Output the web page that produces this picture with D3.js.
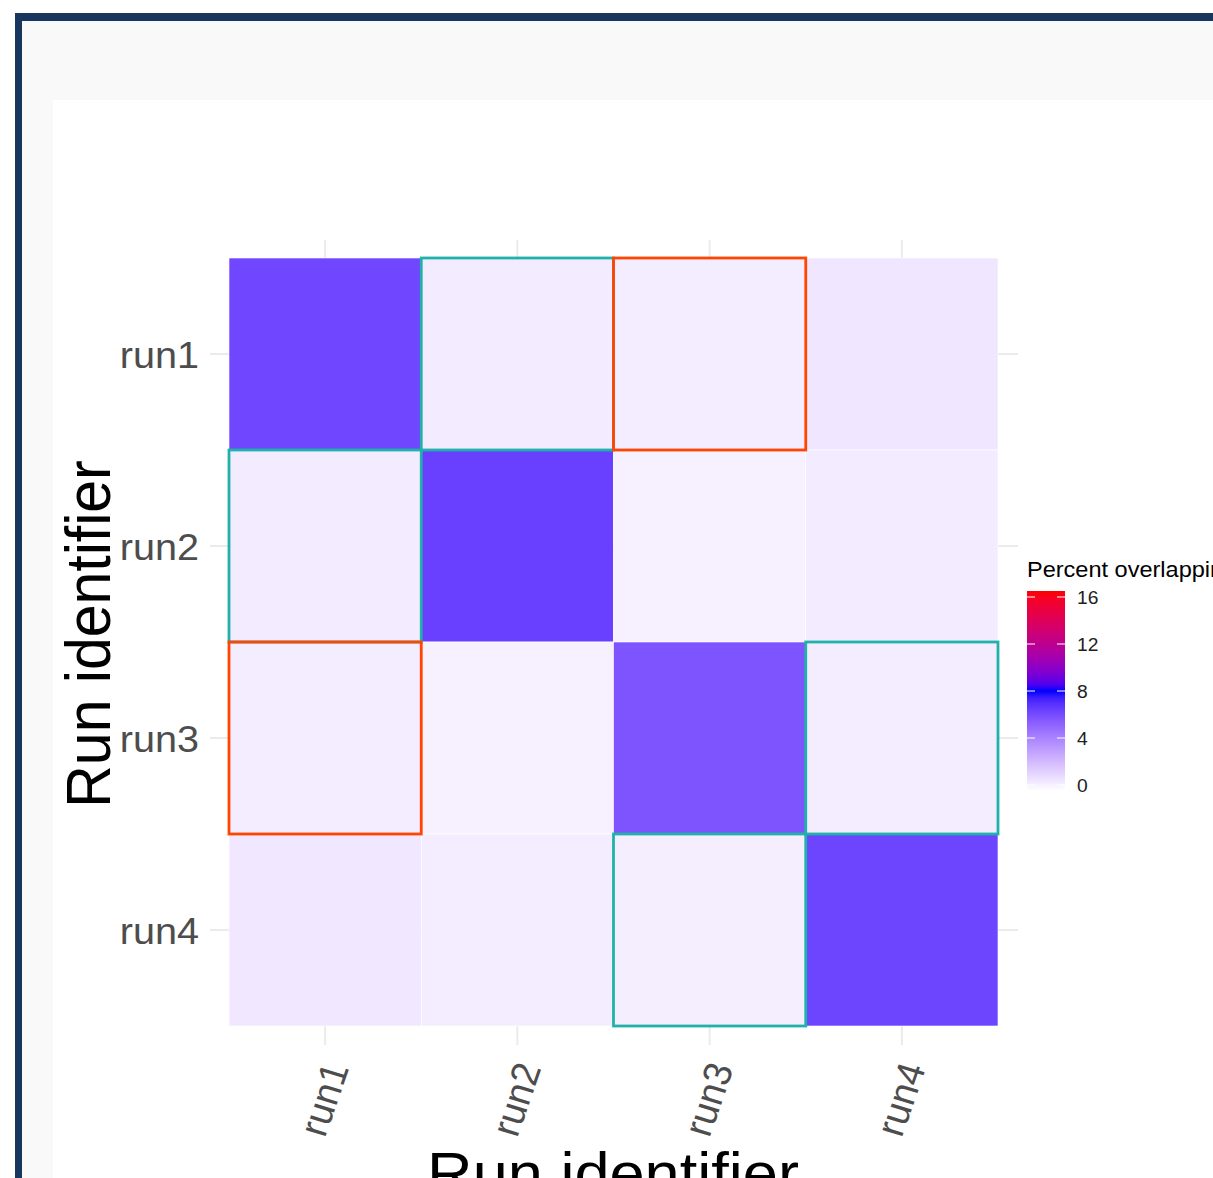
<!DOCTYPE html>
<html><head><meta charset="utf-8">
<script src="https://cdn.jsdelivr.net/npm/d3@7"></script>
<style>html,body{margin:0;padding:0;background:#fff;overflow:hidden}svg{display:block;font-family:"Liberation Sans",Arial,sans-serif}</style>
</head><body>
<svg id="c" width="1213" height="1178"></svg>
<script>
const runs = ["run1","run2","run3","run4"];
// rows (y) x columns (x): percent overlap
const overlapRun1 = [6.30, 0.66, 0.62, 0.82];
const overlapRun2 = [0.66, 6.50, 0.46, 0.68];
const overlapRun3 = [0.62, 0.46, 5.85, 0.60];
const overlapRun4 = [0.80, 0.60, 0.58, 6.35];
const tealPairs = [["run1","run2"],["run2","run1"],["run3","run4"],["run4","run3"]];
const orangePairs = [["run1","run3"],["run3","run1"]];
const legendTicks = [0,4,8,12,16];
const legendTitle = "Percent overlapping";
const axisTitle = "Run identifier";

const rowsVals = [overlapRun1, overlapRun2, overlapRun3, overlapRun4];
const cells = [];
runs.forEach((ry,i)=>runs.forEach((rx,j)=>cells.push({x:rx,y:ry,v:rowsVals[i][j]})));

const svg = d3.select("#c");
const SX = 1.07;

// page frame
svg.append("rect").attr("x",15).attr("y",13).attr("width",1250).attr("height",1250).attr("fill","#17375e");
svg.append("rect").attr("x",22).attr("y",21).attr("width",1250).attr("height",1250).attr("fill","#f9f9f9");
svg.append("rect").attr("x",53).attr("y",100).attr("width",1250).attr("height",1250).attr("fill","#ffffff");

const x = d3.scaleBand().domain(runs).range([229,998]);
const y = d3.scaleBand().domain(runs).range([258,1026]);
const color = d3.scaleLinear().domain([0,8,16]).range(["#ffffff","#0000ff","#ff0000"]).interpolate(d3.interpolateLab);

// grid
const g = svg.append("g");
g.selectAll("line.gx").data(runs).join("line")
  .attr("x1",d=>x(d)+x.bandwidth()/2).attr("x2",d=>x(d)+x.bandwidth()/2)
  .attr("y1",240).attr("y2",1045).attr("stroke","#ebebeb").attr("stroke-width",2);
g.selectAll("line.gy").data(runs).join("line")
  .attr("y1",d=>y(d)+y.bandwidth()/2).attr("y2",d=>y(d)+y.bandwidth()/2)
  .attr("x1",210).attr("x2",1018).attr("stroke","#ebebeb").attr("stroke-width",2);

// tiles
svg.append("g").selectAll("rect").data(cells).join("rect")
  .attr("x",d=>x(d.x)).attr("y",d=>y(d.y))
  .attr("width",x.bandwidth()).attr("height",y.bandwidth())
  .attr("fill",d=>color(d.v)).attr("stroke","#ffffff").attr("stroke-width",0.6);

function outlines(pairs,col){
  svg.append("g").selectAll("rect").data(pairs).join("rect")
    .attr("x",d=>x(d[0])).attr("y",d=>y(d[1]))
    .attr("width",x.bandwidth()).attr("height",y.bandwidth())
    .attr("fill","none").attr("stroke",col).attr("stroke-width",2.8);
}
outlines(tealPairs,"#20b2aa");
outlines(orangePairs,"#ff4500");

function txt(parent,px,py,rot,str,size,fill,anchor,dy){
  return parent.append("text")
    .attr("transform",`translate(${px},${py}) scale(${SX},1) rotate(${rot})`)
    .attr("text-anchor",anchor).attr("dy",dy||0)
    .attr("font-size",size).attr("fill",fill).text(str);
}
// y tick labels
runs.forEach(r=>txt(svg,199,y(r)+y.bandwidth()/2+14,0,r,37,"#4d4d4d","end"));
// x tick labels
runs.forEach(r=>txt(svg,x(r)+x.bandwidth()/2+11,1064,-72,r,37,"#4d4d4d","end","0.35em"));
// axis titles
txt(svg,613,1194,0,axisTitle,59,"#000","middle");
txt(svg,110,634,-90,axisTitle,59,"#000","middle");

// legend
const lg = svg.append("g");
txt(lg,1027,577,0,legendTitle,22,"#000","start");
const ly = d3.scaleLinear().domain([0,16]).range([785,597]);
const grad = svg.append("defs").append("linearGradient").attr("id","lgd")
  .attr("x1",0).attr("y1",1).attr("x2",0).attr("y2",0);
d3.range(0,17,0.5).forEach(v=>grad.append("stop").attr("offset",v/16).attr("stop-color",color(v)));
lg.append("rect").attr("x",1027).attr("y",ly(16)-6).attr("width",38).attr("height",ly(0)-ly(16)+12).attr("fill","url(#lgd)");
legendTicks.forEach(t=>{
  lg.append("line").attr("x1",1027).attr("x2",1035).attr("y1",ly(t)).attr("y2",ly(t)).attr("stroke","#fff").attr("stroke-width",1);
  lg.append("line").attr("x1",1057).attr("x2",1065).attr("y1",ly(t)).attr("y2",ly(t)).attr("stroke","#fff").attr("stroke-width",1);
  txt(lg,1077,ly(t)+6.5,0,String(t),18,"#222","start");
});
</script>
</body></html>
